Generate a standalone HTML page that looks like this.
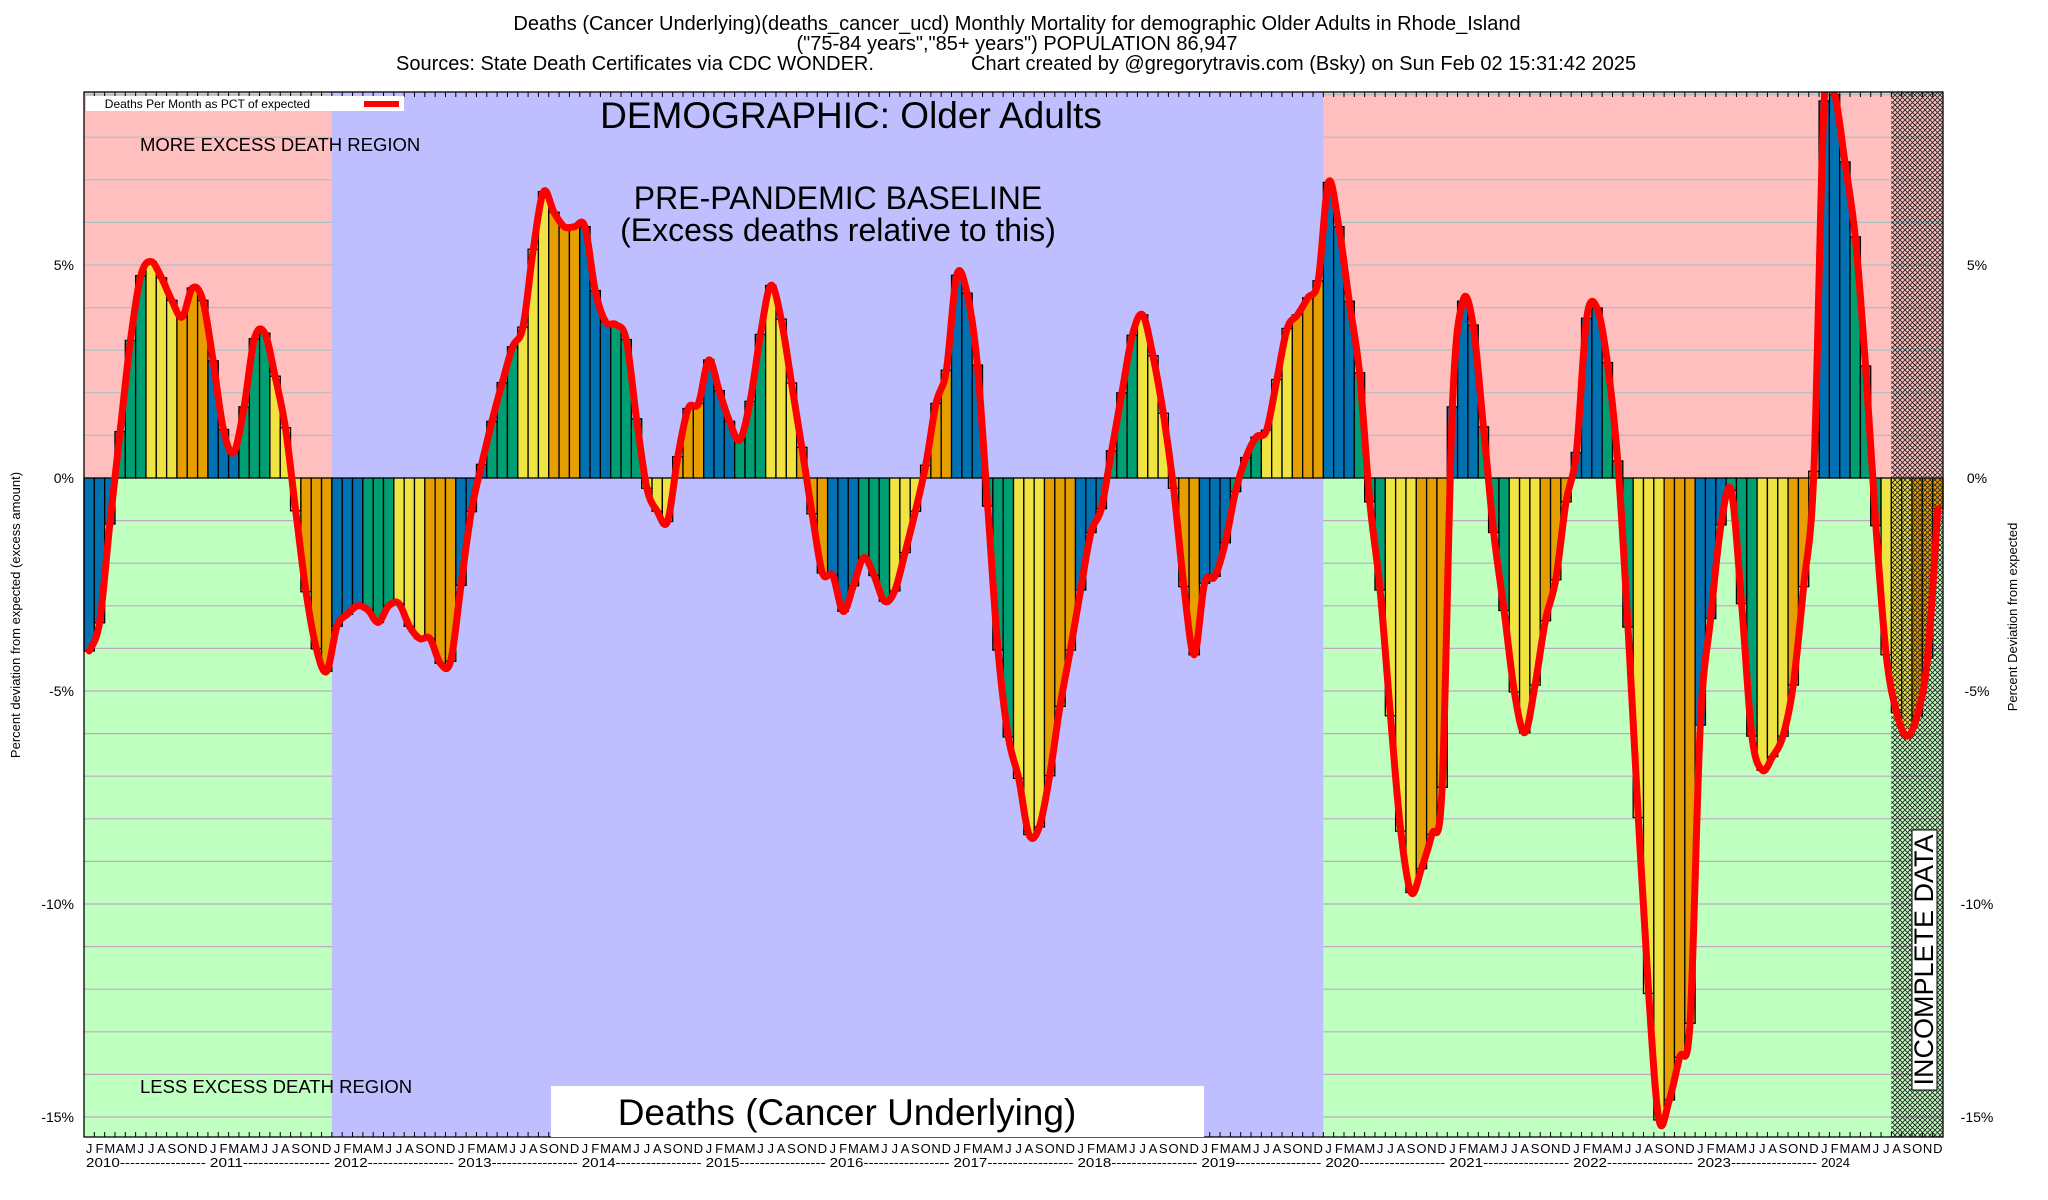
<!DOCTYPE html>
<html><head><meta charset="utf-8">
<style>
html,body{margin:0;padding:0;background:#fff;}
svg{display:block;font-family:"Liberation Sans",Arial,sans-serif;}
</style></head>
<body>
<svg id="chart" width="2048" height="1200" viewBox="0 0 2048 1200" xmlns="http://www.w3.org/2000/svg">
<defs>
<pattern id="hatch" width="5" height="5" patternUnits="userSpaceOnUse">
<path d="M0,0 L5,5 M5,0 L0,5" stroke="#222" stroke-width="0.9"/>
</pattern>
<clipPath id="plotclip"><rect x="84" y="92" width="1859" height="1045"/></clipPath>
</defs>
<g font-size="20" fill="#000" text-anchor="middle">
<text x="1017" y="30">Deaths (Cancer Underlying)(deaths_cancer_ucd) Monthly Mortality for demographic Older Adults in Rhode_Island</text>
<text x="1017" y="50">("75-84 years","85+ years") POPULATION 86,947</text>
<text x="396" y="70" text-anchor="start">Sources: State Death Certificates via CDC WONDER.</text>
<text x="971" y="70" text-anchor="start">Chart created by @gregorytravis.com (Bsky) on Sun Feb 02 15:31:42 2025</text>
</g>
<g id="bg"></g>
<g id="grid"></g>
<g id="bars"></g>
<g id="hatchg"></g>
<path id="line" clip-path="url(#plotclip)" fill="none" stroke="#ff0000" stroke-width="7" stroke-linejoin="round" stroke-linecap="round"/>
<g id="axes"></g>
<g>
<rect x="86" y="96" width="318" height="15" fill="#fff"/>
<text x="310" y="108" font-size="12" text-anchor="end">Deaths Per Month as PCT of expected</text>
<line x1="364" y1="104" x2="399" y2="104" stroke="#ff0000" stroke-width="6"/>
</g>
<text x="851" y="128" font-size="37" text-anchor="middle">DEMOGRAPHIC: Older Adults</text>
<text x="140" y="151" font-size="18.5">MORE EXCESS DEATH REGION</text>
<text x="838" y="209" font-size="32" text-anchor="middle">PRE-PANDEMIC BASELINE</text>
<text x="838" y="241" font-size="32" text-anchor="middle">(Excess deaths relative to this)</text>
<text x="140" y="1093" font-size="18.5">LESS EXCESS DEATH REGION</text>
<g>
<rect x="551" y="1086" width="653" height="51" fill="#fff"/>
<text x="847" y="1125" font-size="37" text-anchor="middle">Deaths (Cancer Underlying)</text>
</g>
<g>
<rect x="1912" y="830" width="25" height="260" fill="#fff" stroke="#000" stroke-width="1"/>
<text transform="translate(1933,960) rotate(-90)" font-size="27" text-anchor="middle">INCOMPLETE DATA</text>
</g>
<text transform="translate(20,615) rotate(-90)" font-size="13" text-anchor="middle">Percent deviation from expected (excess amount)</text>
<text transform="translate(2017,617) rotate(-90)" font-size="13" text-anchor="middle">Percent Deviation from expected</text>
</svg>
<script>
const years = [2010,2011,2012,2013,2014,2015,2016,2017,2018,2019,2020,2021,2022,2023,2024];
const monthLetters = ["J","F","M","A","M","J","J","A","S","O","N","D"];
const yTicks = [5,0,-5,-10,-15];
const yTickLabels = ["5%","0%","-5%","-10%","-15%"];
const values = [
-4.06,-3.4,-1.08,1.09,3.23,4.75,5.08,4.7,4.17,3.78,4.46,4.17,
2.75,1.14,0.6,1.67,3.27,3.4,2.39,1.18,-0.77,-2.67,-4.01,-4.54,
-3.48,-3.2,-3.0,-3.1,-3.39,-3.0,-2.95,-3.48,-3.77,-3.77,-4.35,-4.3,
-2.52,-0.79,0.32,1.33,2.24,3.08,3.54,5.37,6.72,6.24,5.9,5.9,
5.9,4.4,3.67,3.6,3.25,1.39,-0.24,-0.78,-1.02,0.5,1.63,1.75,
2.77,2.05,1.33,0.9,1.8,3.37,4.52,3.73,2.23,0.72,-0.84,-2.23,
-2.29,-3.13,-2.53,-1.87,-2.29,-2.89,-2.65,-1.75,-0.78,0.3,1.75,2.53,
4.76,4.34,2.65,-0.66,-4.04,-6.08,-7.05,-8.37,-8.19,-6.99,-5.36,-4.04,
-2.63,-1.28,-0.72,0.64,2.0,3.35,3.83,2.87,1.52,-0.24,-2.55,-4.15,
-2.47,-2.31,-1.52,-0.32,0.48,0.96,1.12,2.31,3.51,3.83,4.23,4.63,
6.94,5.9,4.15,2.47,-0.56,-2.63,-5.58,-8.29,-9.73,-9.17,-8.37,-7.26,
1.67,4.15,3.59,1.2,-1.28,-3.11,-5.02,-5.98,-4.86,-3.35,-2.39,-0.56,
0.6,3.75,3.99,2.71,0.4,-3.5,-7.97,-12.1,-15.07,-14.6,-13.6,-12.8,
-5.8,-3.3,-1.1,-0.3,-2.95,-6.06,-6.86,-6.54,-6.06,-4.86,-2.55,0.16,
8.85,9.0,7.42,5.66,2.63,-1.12,-4.15,-5.5,-6.06,-5.58,-4.23,-0.72
];
const incompleteMonths = 5;
const baselineStartYear = 2012, baselineEndYear = 2020;

const L=84, R=1943, T=92, B=1137, Y0=478, PX=42.6;
const yMax=(Y0-T)/PX, yMin=-(B-Y0)/PX;
const N = years.length*12;
const bw = (R-L)/N;
const xL = i => L + i*bw;
const xC = i => L + (i+0.5)*bw;
const yS = v => Y0 - v*PX;
const NS="http://www.w3.org/2000/svg";
function mk(tag, attrs, parent){const e=document.createElementNS(NS,tag);for(const k in attrs)e.setAttribute(k,attrs[k]);parent.appendChild(e);return e;}

const bg=document.getElementById('bg');
let r;
r=mk('rect',{x:L,y:T,width:R-L,height:Y0-T,fill:'#ffbfbf'},bg);


r=mk('rect',{x:L,y:Y0,width:R-L,height:B-Y0,fill:'#bfffbf'},bg);



const grid=document.getElementById('grid');
for(let v=Math.ceil(yMin); v<=Math.floor(yMax); v++){
  if(v===0) continue;
  const ln=mk('line',{x1:L,x2:R,y1:yS(v),y2:yS(v),stroke:v>0?'#a9c0c0':'#c0a9c0','stroke-width':1.2},grid);
  
  
}
const bs=(baselineStartYear-years[0])*12, be=(baselineEndYear-years[0])*12;
r=mk('rect',{x:xL(bs),y:T,width:xL(be)-xL(bs),height:B-T,fill:'#bfbfff'},grid);



const colors=['#0072b2','#009e73','#f0e442','#e69f00'];
const bars=document.getElementById('bars');
values.forEach((v,i)=>{
  const y=Math.min(yS(v),Y0), h=Math.abs(yS(v)-Y0);
  const b=mk('rect',{x:xL(i),y:y,width:bw,height:h,fill:colors[Math.floor((i%12)/3)],stroke:'#000','stroke-width':1.3},bars);
  
  
});
mk('line',{x1:L,x2:R,y1:Y0,y2:Y0,stroke:'#000','stroke-width':1},bars);

const hg=document.getElementById('hatchg');
r=mk('rect',{x:xL(N-incompleteMonths),y:T,width:R-xL(N-incompleteMonths),height:B-T,fill:'url(#hatch)'},hg);



const pts=values.map((v,i)=>[xC(i),yS(v)]);
let d='M'+pts[0][0]+','+pts[0][1];
for(let i=0;i<pts.length-1;i++){
  const p0=pts[i-1]||pts[i], p1=pts[i], p2=pts[i+1], p3=pts[i+2]||p2;
  const c1=[p1[0]+(p2[0]-p0[0])/6, p1[1]+(p2[1]-p0[1])/6];
  const c2=[p2[0]-(p3[0]-p1[0])/6, p2[1]-(p3[1]-p1[1])/6];
  d+=' C'+c1[0].toFixed(1)+','+c1[1].toFixed(1)+' '+c2[0].toFixed(1)+','+c2[1].toFixed(1)+' '+p2[0].toFixed(1)+','+p2[1].toFixed(1);
}
document.getElementById('line').setAttribute('d',d);

const ax=document.getElementById('axes');
mk('rect',{x:L,y:T,width:R-L,height:B-T,fill:'none',stroke:'#000','stroke-width':1.3},ax);
for(let i=0;i<=N;i++){
  mk('line',{x1:xL(i),x2:xL(i),y1:T,y2:T+5,stroke:'#000','stroke-width':1},ax);
  mk('line',{x1:xL(i),x2:xL(i),y1:B,y2:B-5,stroke:'#000','stroke-width':1},ax);
}
yTicks.forEach((v,k)=>{
  let t=mk('text',{x:L-10,y:yS(v)+5,'font-size':14,'text-anchor':'end'},ax);
  t.textContent=yTickLabels[k];
  
  
  t=mk('text',{x:R+34,y:yS(v)+5,'font-size':14,'text-anchor':'middle'},ax);
  t.textContent=yTickLabels[k];
  
  
});
for(let i=0;i<N;i++){
  const t=mk('text',{x:xC(i),y:1153,'font-size':13,'text-anchor':'middle'},ax);
  t.textContent=monthLetters[i%12];
  
  
}
years.forEach((yr,k)=>{
  const last = k===years.length-1;
  const t=mk('text',{x:xL(k*12)+2,y:1167,'font-size':13},ax);
  t.textContent=yr+(last?'':'-----------------');
  if(!last){
    t.setAttribute('textLength',(12*bw-4).toFixed(1));
    t.setAttribute('lengthAdjust','spacingAndGlyphs');
  }
  
  
});
</script>
</body></html>
